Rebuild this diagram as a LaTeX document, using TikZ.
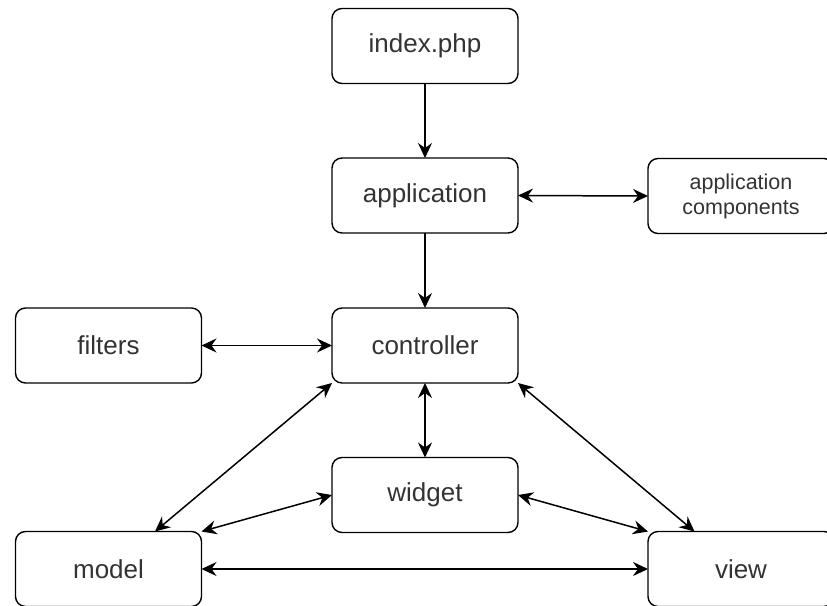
\documentclass[tikz,border=0pt]{standalone}
\usepackage{fontspec}
\setmainfont{Liberation Sans}
\usetikzlibrary{arrows.meta}
\definecolor{labelgray}{HTML}{333333}
\begin{document}
\begin{tikzpicture}[x=1pt,y=-1pt,
  box/.style={draw=black, line width=1.4pt, rounded corners=10pt, fill=white,
    minimum width=186pt, minimum height=75pt, inner sep=2pt, outer sep=0pt,
    text=labelgray, font=\fontsize{26}{30}\selectfont, align=center},
  smallbox/.style={box, font=\fontsize{21.5}{25}\selectfont},
  link/.style={line width=1.5pt, -{Stealth[length=15pt,width=14pt,inset=5pt]}},
  biglink/.style={line width=1.5pt, {Stealth[length=15pt,width=14pt,inset=5pt]}-{Stealth[length=15pt,width=14pt,inset=5pt]}}]
\clip (0,0) rectangle (827,605);
\useasboundingbox (0,0) rectangle (827,605);
\fill[white] (0,0) rectangle (827,605);

% boxes
\node[box] (index) at (425,46) {index.php};
\node[box] (app) at (425,195.5) {application};
\node[smallbox] (comps) at (741,196) {application\\components};
\node[box] (filters) at (108.5,345.5) {filters};
\node[box] (ctrl) at (425,345.5) {controller};
\node[box] (widget) at (425,495) {widget};
\node[box] (model) at (108.5,569) {model};
\node[box] (view) at (741,569) {view};

% connectors
\draw[link] (index.south) -- (app.north);
\draw[link] (app.south) -- (ctrl.north);
\draw[biglink] (app.east) -- (comps.west);
\draw[biglink] (filters.east) -- (ctrl.west);
\draw[biglink] (ctrl.south) -- (widget.north);
\draw[biglink] (ctrl.south west) -- ([xshift=46.5pt]model.north);
\draw[biglink] (ctrl.south east) -- ([xshift=-46.5pt]view.north);
\draw[biglink] (widget.west) -- (model.north east);
\draw[biglink] (widget.east) -- (view.north west);
\draw[biglink] (model.east) -- (view.west);
\end{tikzpicture}
\end{document}
